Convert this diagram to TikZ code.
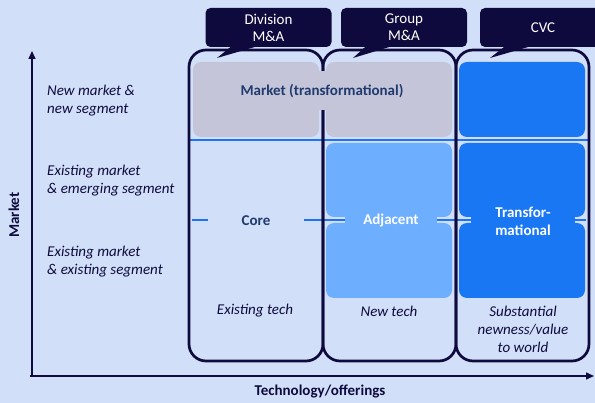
\documentclass[tikz,border=0pt]{standalone}
\usepackage{fontspec}
\setmainfont{Carlito}
\usetikzlibrary{arrows.meta,calc}
\definecolor{bgc}{HTML}{D1E0F8}
\definecolor{navy}{HTML}{0F0A3D}
\definecolor{graycell}{HTML}{C5C5D9}
\definecolor{lightblue}{HTML}{6EAEFF}
\definecolor{darkblue}{HTML}{1A77F3}
\definecolor{textblue}{HTML}{1F3A6E}
\definecolor{lineblue}{HTML}{1F72F2}
\begin{document}
\begin{tikzpicture}[x=1pt,y=-1pt,
  cell/.style={rounded corners=8pt},
  colbox/.style={draw=navy, line width=2.7pt, rounded corners=17pt},
  callout/.style={rectangle, rounded corners=5pt, fill=navy, text=white, minimum width=126pt, minimum height=39pt, inner sep=0pt, align=center, font=\fontsize{15}{17}\selectfont},
  rowlbl/.style={anchor=west, align=left, text=navy, inner sep=0pt, font=\fontsize{15}{18}\selectfont\itshape},
  collbl/.style={align=center, text=navy, inner sep=0pt, font=\fontsize{15}{18}\selectfont\itshape},
  celltxt/.style={align=center, inner sep=0pt, font=\fontsize{15}{18}\selectfont\bfseries},
  axis/.style={draw=navy, line width=1.5pt, -{Triangle[length=8pt,width=7pt]}},
  sep/.style={draw=lineblue, line width=1.2pt}
]
\useasboundingbox (0,0) rectangle (595,403);
\clip (0,0) rectangle (595,403);
\fill[bgc] (0,0) rectangle (595,403);

% separators
\coordinate (s1a) at (190,140); \coordinate (s1b) at (590,140);
\coordinate (s2a) at (192,220); \coordinate (s2b) at (586,220);
\draw[sep] (s1a) -- (s1b);
\draw[sep] (s2a) -- (s2b);

% cells
\fill[graycell, cell] (193,62) rectangle (319,137);
\fill[graycell, cell] (326,62) rectangle (452,137);
\fill[darkblue, cell] (459,62) rectangle (585,137);
\fill[lightblue, cell] (326,143) rectangle (452,217);
\fill[lightblue, cell] (326,223) rectangle (452,298);
\fill[darkblue, cell] (459,143) rectangle (585,217);
\fill[darkblue, cell] (459,223) rectangle (585,298);

% columns
\draw[colbox] (189,50) rectangle (323,361);
\draw[colbox] (323,50) rectangle (456,361);
\draw[colbox] (456,50) rectangle (589,361);

% callouts
\node[callout] (div) at (268.5,27.5) {Division\\M\&A};
\node[callout] (grp) at (404,27.5) {Group\\M\&A};
\node[callout] (cvc) at (543,27.5) {CVC};
\coordinate (divtip) at (217,58);
\coordinate (grptip) at (353,58);
\coordinate (cvctip) at (490,58);
\fill[navy] (divtip) -- ($(div.south)+(-37,-1)$) -- ($(div.south)+(-11,-1)$) -- cycle;
\fill[navy] (grptip) -- ($(grp.south)+(-38,-1)$) -- ($(grp.south)+(-12,-1)$) -- cycle;
\fill[navy] (cvctip) -- ($(cvc.south)+(-38,-1)$) -- ($(cvc.south)+(-12,-1)$) -- cycle;

% cell texts
\node[celltxt, fill=graycell, text=textblue, minimum height=39pt, inner xsep=3pt] (mkt) at (322,91) {Market (transformational)};
\node[celltxt, fill=bgc, text=textblue, minimum width=96pt, minimum height=12pt] (core) at (256,221) {Core};
\node[celltxt, fill=lightblue, text=white, minimum width=92pt, minimum height=20pt] (adj) at (391,221) {Adjacent};
\node[celltxt, fill=darkblue, text=white, minimum width=104pt, minimum height=24pt] (trf) at (523,221) {Transfor-\\mational};

% column labels
\node[collbl] (c1) at (255,311) {Existing tech};
\node[collbl] (c2) at (389,311) {New tech};
\node[collbl] (c3) at (523,329) {Substantial\\newness/value\\to world};

% row labels
\node[rowlbl] (r1) at (47,100.5) {New market \&\\new segment};
\node[rowlbl] (r2) at (47,181) {Existing market\\\& emerging segment};
\node[rowlbl] (r3) at (47,262) {Existing market\\\& existing segment};

% axes
\coordinate (origin) at (32,376);
\coordinate (ytip) at (32,51);
\coordinate (xtip) at (594,376);
\coordinate (xstart) at (30,376);
\draw[axis] (origin) -- (ytip);
\draw[axis] (xstart) -- (xtip);
\node[celltxt, text=navy, rotate=90] (ylab) at (14,215) {Market};
\node[celltxt, text=navy] (xlab) at (320,392) {Technology/offerings};
\end{tikzpicture}
\end{document}
